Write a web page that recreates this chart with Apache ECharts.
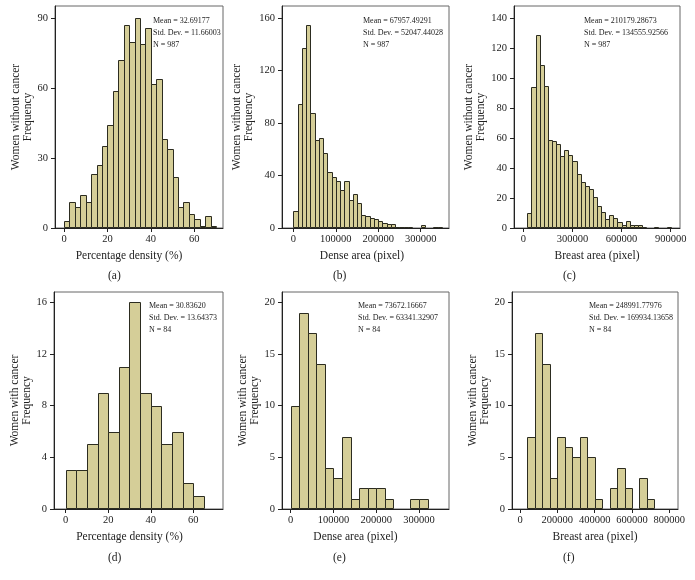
<!DOCTYPE html>
<html>
<head>
<meta charset="utf-8">
<script src="https://cdn.jsdelivr.net/npm/echarts@6/dist/echarts.min.js"></script>
<style>
  html, body { margin: 0; padding: 0; background: #fff; }
  #chart { width: 695px; height: 580px; }
</style>
</head>
<body>
<div id="chart"></div>
<script>
// ---------- data ----------
const countsA = [3,11,9,14,11,23,27,35,44,59,72,87,80,90,79,86,62,64,38,34,22,9,11,6,4,1,5,1];
const binStartA = 0, binWidthA = 2.5;
const countsB = [13,95,137,155,88,67,69,57,43,39,36,29,36,21,26,19,10,9,8,7,5,4,3,3,1,1,1,1,0,0,2,0,0,1,1];
const binStartB = 0, binWidthB = 10000;
const countsC = [10,94,129,109,95,59,58,56,48,52,49,45,36,31,28,26,21,15,11,6,9,7,4,2,5,2,2,2,1,0,0,1,0,0,1];
const binStartC = 25000, binWidthC = 25000;
const countsD = [3,3,5,9,6,11,16,9,8,5,6,2,1];
const binStartD = 0, binWidthD = 5;
const countsE = [10,19,17,14,4,3,7,1,2,2,2,1,0,0,1,1];
const binStartE = 0, binWidthE = 20000;
const countsF = [7,17,14,3,7,6,5,7,5,1,0,2,4,2,0,3,1];
const binStartF = 40000, binWidthF = 40000;

const xTicksA = [0,20,40,60],            yTicksA = [0,30,60,90];
const xTicksB = [0,100000,200000,300000], yTicksB = [0,40,80,120,160];
const xTicksC = [0,300000,600000,900000], yTicksC = [0,20,40,60,80,100,120,140];
const xTicksD = [0,20,40,60],            yTicksD = [0,4,8,12,16];
const xTicksE = [0,100000,200000,300000], yTicksE = [0,5,10,15,20];
const xTicksF = [0,200000,400000,600000,800000], yTicksF = [0,5,10,15,20];

const xTitles = ['Percentage density (%)','Dense area (pixel)','Breast area (pixel)',
                 'Percentage density (%)','Dense area (pixel)','Breast area (pixel)'];
const yTitles = ['Women without cancer\nFrequency','Women without cancer\nFrequency','Women without cancer\nFrequency',
                 'Women with cancer\nFrequency','Women with cancer\nFrequency','Women with cancer\nFrequency'];
const panelLabels = ['(a)','(b)','(c)','(d)','(e)','(f)'];
const statMeans = ['32.69177','67957.49291','210179.28673','30.83620','73672.16667','248991.77976'];
const statSDs   = ['11.66003','52047.44028','134555.92566','13.64373','63341.32907','169934.13658'];
const statNs    = ['987','987','987','84','84','84'];

// ---------- layout ----------
const FONT = 'Liberation Serif';
const BAR_FILL = '#d5ce98';
const BAR_STROKE = '#2c2c20';
const panels = [
  {counts: countsA, s: binStartA, w: binWidthA, xt: xTicksA, yt: yTicksA, grid: {left: 55, top: 6, width: 168, height: 222}, xmin: -4.144, xmax: 73.21, ymax: 95.28, tshift: 20, ygap: 14, lab: [116, 277], st: [153, 20]},
  {counts: countsB, s: binStartB, w: binWidthB, xt: xTicksB, yt: yTicksB, grid: {left: 282, top: 6, width: 167, height: 222}, xmin: -26610, xmax: 366640, ymax: 169.4, tshift: 7, ygap: 10, lab: [341, 277], st: [363, 20]},
  {counts: countsC, s: binStartC, w: binWidthC, xt: xTicksC, yt: yTicksC, grid: {left: 514, top: 6, width: 166, height: 222}, xmin: -56785, xmax: 956770, ymax: 148.2, tshift: 0, ygap: 16, lab: [571, 277], st: [584, 20]},
  {counts: countsD, s: binStartD, w: binWidthD, xt: xTicksD, yt: yTicksD, grid: {left: 54, top: 292, width: 169, height: 217}, xmin: -5.50, xmax: 73.97, ymax: 16.80, tshift: 18, ygap: 12, lab: [116, 559], st: [149, 305]},
  {counts: countsE, s: binStartE, w: binWidthE, xt: xTicksE, yt: yTicksE, grid: {left: 282, top: 292, width: 167, height: 217}, xmin: -20343, xmax: 370144, ymax: 21.0, tshift: 20, ygap: 11, lab: [341, 559], st: [358, 305]},
  {counts: countsF, s: binStartF, w: binWidthF, xt: xTicksF, yt: yTicksF, grid: {left: 512, top: 292, width: 166, height: 217}, xmin: -42867, xmax: 846617, ymax: 21.0, tshift: 0, ygap: 15, lab: [571, 559], st: [589, 305]}
];

const grids = [], xAxes = [], yAxes = [], series = [], graphics = [];
panels.forEach((p, i) => {
  grids.push(Object.assign({show: true, borderColor: '#666', borderWidth: 1, backgroundColor: 'transparent'}, p.grid));
  xAxes.push({
    type: 'value', gridIndex: i, min: p.xmin, max: p.xmax,
    splitLine: {show: false},
    axisLine: {show: true, onZero: false, lineStyle: {color: '#222', width: 1}},
    axisTick: {show: true, inside: false, length: 4, customValues: p.xt, lineStyle: {color: '#222'}},
    axisLabel: {show: true, customValues: p.xt, margin: 6, formatter: v => String(v), color: '#222', fontFamily: FONT, fontSize: 10.5},
    name: xTitles[i], nameLocation: 'middle', nameGap: 22,
    nameTextStyle: {fontFamily: FONT, fontSize: 11.5, color: '#222', padding: [0, p.tshift, 0, 0]}
  });
  yAxes.push({
    type: 'value', gridIndex: i, min: 0, max: p.ymax,
    splitLine: {show: false},
    axisLine: {show: true, onZero: false, lineStyle: {color: '#222', width: 1}},
    axisTick: {show: true, inside: false, length: 4, customValues: p.yt, lineStyle: {color: '#222'}},
    axisLabel: {show: true, customValues: p.yt, margin: 7, formatter: v => String(v), color: '#222', fontFamily: FONT, fontSize: 10.5},
    name: yTitles[i], nameLocation: 'middle', nameRotate: 90, nameGap: p.ygap,
    nameTextStyle: {fontFamily: FONT, fontSize: 11.5, color: '#222', lineHeight: 12}
  });
  const data = p.counts.map((c, k) => [p.s + k * p.w, p.s + (k + 1) * p.w, c]);
  series.push({
    type: 'custom', xAxisIndex: i, yAxisIndex: i, data: data,
    encode: {x: [0, 1], y: 2},
    renderItem: function (params, api) {
      const v = api.value(2);
      if (!v) return null;
      const p0 = api.coord([api.value(0), v]);
      const p1 = api.coord([api.value(1), 0]);
      const x0 = Math.round(p0[0]) + 0.5, x1 = Math.round(p1[0]) + 0.5;
      const y0 = Math.round(p0[1]) + 0.5, y1 = Math.round(p1[1]) - 0.5;
      return {type: 'rect', shape: {x: x0, y: y0, width: x1 - x0, height: y1 - y0},
              style: {fill: BAR_FILL, stroke: BAR_STROKE, lineWidth: 1}};
    }
  });
  graphics.push({type: 'text', left: p.lab[0] - 8, top: p.lab[1] - 7,
    style: {text: panelLabels[i], font: '11.5px "' + FONT + '"', fill: '#222'}});
  graphics.push({type: 'text', left: p.st[0], top: p.st[1] - 5,
    style: {text: 'Mean = ' + statMeans[i] + '\nStd. Dev. = ' + statSDs[i] + '\nN = ' + statNs[i],
            font: '8px "' + FONT + '"', lineHeight: 12, fill: '#222'}});
});

const chart = echarts.init(document.getElementById('chart'), null, {renderer: 'canvas'});
chart.setOption({
  animation: false,
  textStyle: {fontFamily: FONT},
  grid: grids, xAxis: xAxes, yAxis: yAxes, series: series, graphic: graphics
});
</script>
</body>
</html>
